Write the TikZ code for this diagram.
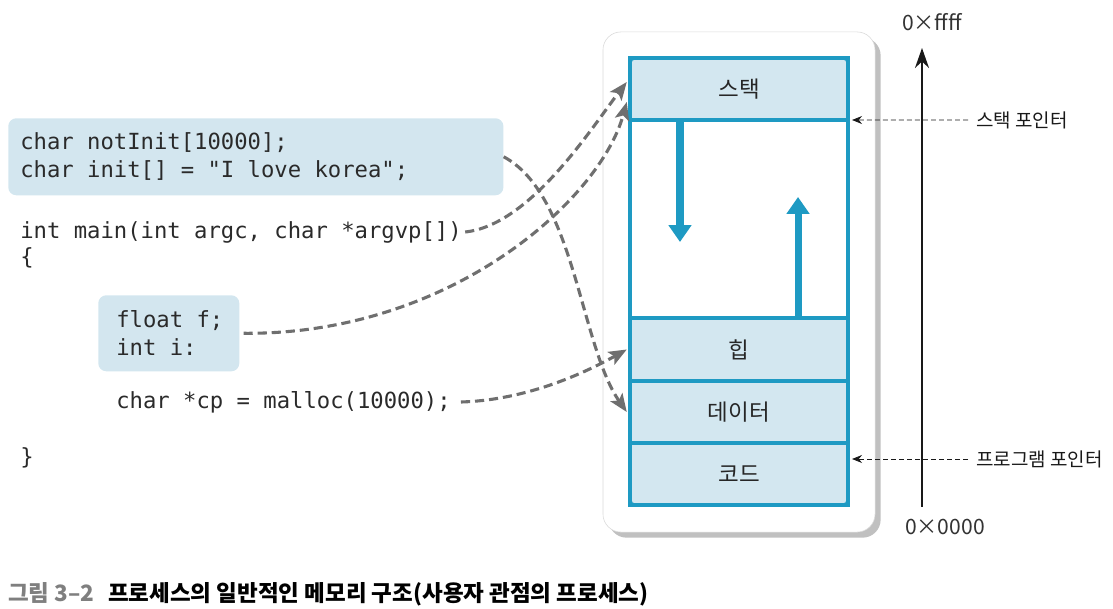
\documentclass[tikz,border=0pt]{standalone}
\usepackage{fontspec}
\setmonofont{DejaVu Sans Mono}
\newfontfamily\kr{Noto Sans CJK KR}
\usetikzlibrary{arrows.meta,shadows}
\definecolor{memblue}{HTML}{1E9AC3}
\definecolor{memfill}{HTML}{D3E7F0}
\definecolor{codefill}{HTML}{D3E6EF}
\definecolor{linkgray}{HTML}{6F6F6F}
\definecolor{codeink}{HTML}{2A2A2A}
\definecolor{capgray}{HTML}{7F7F7F}

\begin{document}
\begin{tikzpicture}[x=0.025cm,y=-0.025cm,
  seg/.style={draw=memblue,line width=2.6pt,fill=memfill,minimum width=5.45cm,
    inner sep=0pt,outer sep=0pt,text=black!85,font=\kr\fontsize{16}{18}\selectfont},
  code/.style={anchor=west,inner sep=0pt,align=left,text=codeink,font=\ttfamily\fontsize{15.8}{20}\selectfont},
  codebox/.style={fill=codefill,rounded corners=0.2cm,inner sep=0pt,anchor=north west},
  link/.style={draw=linkgray,line width=2.2pt,dash pattern=on 6.5pt off 3.5pt,
    -{Stealth[length=0.45cm,width=0.36cm,inset=0.1cm]}},
  growarrow/.style={draw=memblue,line width=5pt,-{Triangle[length=0.42cm,width=0.55cm]}},
  ptr/.style={draw=black!90,line width=0.6pt,dash pattern=on 3.5pt off 2.2pt,
    -{Stealth[length=0.25cm,width=0.2cm]}},
  side/.style={anchor=west,inner sep=0pt,text=black!90,font=\kr\fontsize{13.5}{15}\selectfont},
  addr/.style={inner sep=0pt,text=black!80,font=\kr\fontsize{15}{17}\selectfont}]
\useasboundingbox (0,0) rectangle (1113,609);

% memory layout
\node[draw=black!15,fill=white,rounded corners=0.45cm,minimum width=6.8cm,minimum height=12.5cm,
  drop shadow={shadow xshift=0.14cm,shadow yshift=-0.14cm,fill=black!55,opacity=0.45}] (card) at (739,282) {};
\node[seg,minimum height=1.55cm] (stack) at (739,89) {스택};
\node[seg,minimum height=4.95cm,fill=white] (free) at (739,219) {};
\node[seg,minimum height=1.575cm] (heap) at (739,349.5) {힙};
\node[seg,minimum height=1.55cm] (dataseg) at (739,412) {데이터};
\node[seg,minimum height=1.55cm] (codeseg) at (739,474) {코드};
\draw[memblue,line width=2.6pt,rounded corners=0.1cm] (stack.north west) rectangle (codeseg.south east);
\draw[growarrow] ([xshift=-1.475cm]free.north) -- ([xshift=-1.475cm,yshift=-3.05cm]free.north);
\draw[growarrow] ([xshift=1.475cm]free.south) -- ([xshift=1.475cm,yshift=3.025cm]free.south);

% address axis
\coordinate (lo) at (922,507);
\coordinate (hi) at (922,48);
\draw[line width=1.5pt,black!90,-{Stealth[length=0.5cm,width=0.35cm]}] (lo) -- (hi);
\node[addr] (top) at (932,22) {0×ffff};
\node[addr] (bot) at (945,527) {0×0000};
\node[side] (sp) at (976,120) {스택 포인터};
\node[side] (pp) at (976,459) {프로그램 포인터};
\draw[ptr] ([xshift=-0.2cm]sp.west) -- ([xshift=0.1cm]stack.south east);
\draw[ptr] ([xshift=-0.2cm]pp.west) -- ([xshift=0.1cm]pp.west -| codeseg.east);

% source code
\node[codebox,minimum width=12.375cm,minimum height=1.925cm] (globals) at (8,118) {};
\node[code] (globaltext) at (20,157) {char notInit[10000];\\char init[] = "I love korea";};
\node[code] (main) at (20,232) {int main(int argc, char *argvp[])};
\node[code] (lbrace) at (20,258) {\{};
\node[codebox,minimum width=3.525cm,minimum height=1.9cm] (locals) at (98,295) {};
\node[code] (localtext) at (116,333) {float f;\\int i:};
\node[code] (malloc) at (116,402) {char *cp = malloc(10000);};
\node[code] (rbrace) at (20,458) {\}};

\draw[link] (globals.east) .. controls (575,195) and (580,345) .. ([xshift=-0.08cm]dataseg.west);
\draw[link] ([xshift=0.08cm]main.east) .. controls (530,225) and (590,130) .. ([xshift=-0.08cm,yshift=0.175cm]stack.west);
\draw[link] ([xshift=0.1cm]locals.east) .. controls (450,335) and (600,200) .. ([xshift=-0.08cm,yshift=-0.325cm]stack.west);
\draw[link] ([xshift=0.25cm]malloc.east) .. controls (530,400) and (590,370) .. ([xshift=-0.08cm]heap.west);

\node[anchor=west,inner sep=0pt,font=\kr\bfseries\fontsize{16}{18}\selectfont] (caption) at (8,594)
  {{\color{capgray}그림 3–2}\hspace{0.6em}프로세스의 일반적인 메모리 구조(사용자 관점의 프로세스)};
\end{tikzpicture}
\end{document}
